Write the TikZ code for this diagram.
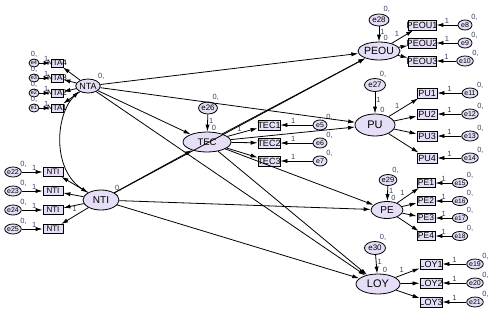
\documentclass[tikz,border=0pt]{standalone}
\usepackage{fontspec}
\setmainfont{Liberation Sans}
\usetikzlibrary{shapes.geometric, arrows.meta, positioning}
\definecolor{latfill}{RGB}{230,222,246}
\definecolor{lblgray}{RGB}{60,66,96}
\newcommand{\fsz}[1]{\fontsize{#1}{#1}\selectfont}

\begin{document}
\begin{tikzpicture}[x=1pt, y=-1pt,
  latent/.style={draw, ellipse, fill=latfill, inner sep=0pt, line width=0.8pt},
  errvar/.style={draw, ellipse, fill=latfill, inner sep=0pt, line width=0.8pt},
  obsbox/.style={draw, rectangle, fill=latfill, inner sep=0pt, line width=0.8pt},
  boxtext/.style={inner sep=0pt},
  estim/.style={font=\fsz{7.5}, text=lblgray, inner sep=1pt},
  reg/.style={-{Latex[length=7pt,width=4.2pt]}, line width=0.8pt},
  cov/.style={{Latex[length=7pt,width=4.2pt]}-{Latex[length=7pt,width=4.2pt]}, line width=0.8pt}
]
\useasboundingbox (0,0) rectangle (498,314);

% latent variables
\node[latent, minimum width=24pt, minimum height=14pt, font=\fsz{9}, label={[estim]north east:{0,}}] (NTA) at (88,86) {NTA};
\node[latent, minimum width=36pt, minimum height=20pt, font=\fsz{10}, label={[estim]north east:{0,}}] (NTI) at (101,200) {NTI};
\node[latent, minimum width=48pt, minimum height=20pt, font=\fsz{9.5}, label={[estim]70:0}] (TEC) at (207,142) {TEC};
\node[latent, minimum width=40pt, minimum height=18pt, font=\fsz{10.5}, label={[estim]70:0}] (PEOU) at (379,51) {PEOU};
\node[latent, minimum width=40pt, minimum height=22pt, font=\fsz{11}, label={[estim]70:0}] (PU) at (375,125) {PU};
\node[latent, minimum width=32pt, minimum height=17pt, font=\fsz{10}, label={[estim]70:0}] (PE) at (387,210) {PE};
\node[latent, minimum width=44pt, minimum height=20pt, font=\fsz{11}, label={[estim]70:0}] (LOY) at (378,284) {LOY};

% disturbances
\node[errvar, minimum width=18pt, minimum height=12pt, font=\fsz{8}, label={[estim]60:{0,}}] (e26) at (208,108) {e26};
\node[errvar, minimum width=20pt, minimum height=12pt, font=\fsz{8}, label={[estim]60:{0,}}] (e28) at (379,20) {e28};
\node[errvar, minimum width=21pt, minimum height=13pt, font=\fsz{8}, label={[estim]60:{0,}}] (e27) at (375,85) {e27};
\node[errvar, minimum width=16pt, minimum height=11pt, font=\fsz{7.5}, label={[estim]60:{0,}}] (e29) at (388,180) {e29};
\node[errvar, minimum width=21pt, minimum height=13pt, font=\fsz{8}, label={[estim]60:{0,}}] (e30) at (375,248) {e30};

\draw[reg] (e26) -- node[estim, right, pos=0.35]{1} (TEC);
\draw[reg] (e28) -- node[estim, right, pos=0.35]{1} (PEOU);
\draw[reg] (e27) -- node[estim, right, pos=0.35]{1} (PU);
\draw[reg] (e29) -- node[estim, right, pos=0.35]{1} (PE);
\draw[reg] (e30) -- node[estim, right, pos=0.35]{1} (LOY);

% NTA indicators
\foreach \i/\y in {4/63, 3/78, 2/93, 1/108}{
  \node[obsbox, minimum width=12pt, minimum height=8pt, label={[boxtext, font=\fsz{8}]center:NTA\i}] (nta\i) at (57,\y) {};
  \node[errvar, minimum width=10pt, minimum height=8pt, font=\fsz{5.5}, label={[estim]north:{0,}}] (e\i) at (34,\y) {e\i};
  \draw[reg] (NTA) -- (nta\i);
  \draw[reg] (e\i) -- node[estim, above, pos=0.6]{1} (nta\i);
}

% NTI indicators
\foreach \i/\y/\e in {1/172/22, 2/191/23, 3/210/24, 4/229/25}{
  \node[obsbox, minimum width=20pt, minimum height=9pt, label={[boxtext, font=\fsz{8}]center:NTI}] (nti\i) at (53,\y) {};
  \node[errvar, minimum width=14pt, minimum height=10pt, font=\fsz{7}, label={[estim]north east:{0,}}] (e\e) at (13,\y) {e\e};
  \draw[reg] (NTI) -- (nti\i);
  \draw[reg] (e\e) -- node[estim, above, pos=0.6]{1} (nti\i);
}
\path (NTI) -- node[estim, below, pos=0.45]{1} (nti3);

% TEC indicators
\foreach \i/\y/\e in {1/125/5, 2/143/6, 3/161/7}{
  \node[obsbox, minimum width=22pt, minimum height=10pt, label={[boxtext, font=\fsz{9}]center:TEC\i}] (tec\i) at (269,\y) {};
  \node[errvar, minimum width=14pt, minimum height=10pt, font=\fsz{7}, label={[estim]north east:{0,}}] (e\e) at (320,\y) {e\e};
  \draw[reg] (TEC) -- (tec\i);
  \draw[reg] (e\e) -- node[estim, above, pos=0.6]{1} (tec\i);
}
\path (TEC) -- node[estim, above, pos=0.4]{1} (tec1);

% PEOU indicators
\foreach \i/\y/\e in {1/25/8, 2/43/9, 3/61/10}{
  \node[obsbox, minimum width=28pt, minimum height=10pt, label={[boxtext, font=\fsz{9}]center:PEOU\i}] (peou\i) at (422,\y) {};
  \node[errvar, minimum width=14pt, minimum height=10pt, font=\fsz{7}, label={[estim]north east:{0,}}] (e\e) at (465,\y) {e\e};
  \draw[reg] (PEOU) -- (peou\i);
  \draw[reg] (e\e) -- node[estim, above, pos=0.5]{1} (peou\i);
}
\path (PEOU) -- node[estim, above left, pos=0.4]{1} (peou1);

% PU indicators
\foreach \i/\y/\e in {1/93/11, 2/114/12, 3/136/13, 4/158/14}{
  \node[obsbox, minimum width=20pt, minimum height=10pt, label={[boxtext, font=\fsz{9}]center:PU\i}] (pu\i) at (427,\y) {};
  \node[errvar, minimum width=14pt, minimum height=10pt, font=\fsz{7}, label={[estim]north east:{0,}}] (e\e) at (470,\y) {e\e};
  \draw[reg] (PU) -- (pu\i);
  \draw[reg] (e\e) -- node[estim, above, pos=0.5]{1} (pu\i);
}
\path (PU) -- node[estim, above left, pos=0.4]{1} (pu1);

% PE indicators
\foreach \i/\y/\e in {1/183/15, 2/201/16, 3/218/17, 4/236/18}{
  \node[obsbox, minimum width=18pt, minimum height=9pt, label={[boxtext, font=\fsz{8.5}]center:PE\i}] (pe\i) at (426,\y) {};
  \node[errvar, minimum width=12pt, minimum height=9pt, font=\fsz{6.5}, label={[estim]north east:{0,}}] (e\e) at (460,\y) {e\e};
  \draw[reg] (PE) -- (pe\i);
  \draw[reg] (e\e) -- node[estim, above, pos=0.5]{1} (pe\i);
}
\path (PE) -- node[estim, above left, pos=0.4]{1} (pe1);

% LOY indicators
\foreach \i/\y/\e in {1/264/19, 2/283/20, 3/302/21}{
  \node[obsbox, minimum width=22pt, minimum height=10pt, label={[boxtext, font=\fsz{9}]center:LOY\i}] (loy\i) at (431,\y) {};
  \node[errvar, minimum width=14pt, minimum height=10pt, font=\fsz{7}, label={[estim]north east:{0,}}] (e\e) at (475,\y) {e\e};
  \draw[reg] (LOY) -- (loy\i);
  \draw[reg] (e\e) -- node[estim, above, pos=0.5]{1} (loy\i);
}
\path (LOY) -- node[estim, above left, pos=0.4]{1} (loy1);

% structural paths
\draw[reg] (NTA) -- (PEOU);
\draw[reg] (NTA) -- (PU);
\draw[reg] (NTA) -- (TEC);
\draw[reg] (NTA) -- (LOY);
\draw[reg] (NTI) -- (TEC);
\draw[reg] (NTI) -- (PEOU);
\draw[reg] (NTI) -- (PE);
\draw[reg] (NTI) -- (LOY);
\draw[reg] (TEC) -- (PEOU);
\draw[reg] (TEC) -- (PU);
\draw[reg] (TEC) -- (PE);
\draw[reg] (TEC) -- (LOY);

% covariance
\draw[cov] (NTA.south west) .. controls (55,115) and (52,170) .. (NTI.north west);
\end{tikzpicture}
\end{document}
